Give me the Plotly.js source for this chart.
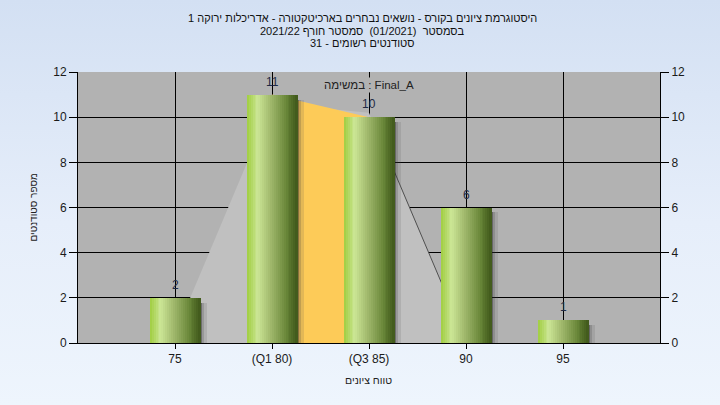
<!DOCTYPE html>
<html>
<head>
<meta charset="utf-8">
<script src="https://cdn.plot.ly/plotly-3.0.1.min.js"></script>
<style>
html,body{margin:0;padding:0;}
body{width:720px;height:405px;background:linear-gradient(to bottom,#d3e0f3 0%,#e6eefa 55%,#eef5fd 100%);}
#chart{width:720px;height:405px;}
</style>
</head>
<body>
<div id="chart"></div>
<script>
// ---- data ----
const categories = ["75", "(Q1 80)", "(Q3 85)", "90", "95"];
const counts = [2, 11, 10, 6, 1];
// background distribution area (category index, value)
const curveX = [-0.04, 1, 2, 3.01];
const curveY = [0, 10.6, 10.2, 0];
// Q1..Q3 highlighted area
const iqrX = [1, 1, 2, 2];
const iqrY = [0, 11, 10, 0];
// dark edge line on the right side of the curve
const edgeX = [2.26, 3.01];
const edgeY = [7.6, 0];
const titleLines = [
  "היסטוגרמת ציונים בקורס - נושאים נבחרים בארכיטקטורה - אדריכלות ירוקה 1",
  "בסמסטר  (01/2021)  סמסטר חורף 2021/22",
  "סטודנטים רשומים - 31"
];
const legendText = "במשימה : Final_A";
const xTitle = "טווח ציונים";
const yTitle = "מספר סטודנטים";

const xIdx = categories.map((c, i) => i);
const FONT = "Liberation Sans, Arial, DejaVu Sans, sans-serif";
const M = {l: 78, r: 60, t: 72, b: 62};
const PW = 720 - M.l - M.r;
const PH = 405 - M.t - M.b;

const traces = [];
traces.push({type: "scatter", x: curveX, y: curveY, fill: "toself", fillcolor: "#c0c0c0",
  mode: "lines", line: {width: 0}, hoverinfo: "skip", showlegend: false});
traces.push({type: "scatter", x: iqrX, y: iqrY, fill: "toself", fillcolor: "#fdcb58",
  mode: "lines", line: {width: 0}, hoverinfo: "skip", showlegend: false});
traces.push({type: "scatter", x: edgeX, y: edgeY, mode: "lines",
  line: {width: 1, color: "#505050"}, hoverinfo: "skip", showlegend: false});

const W = 0.52;
const shadowCols = ["rgba(40,40,40,0.55)", "rgba(60,60,60,0.3)", "rgba(80,80,80,0.15)"];
shadowCols.forEach((c, k) => {
  traces.push({type: "bar", x: xIdx, y: counts.map(v => v - 0.22), yaxis: "y2", width: 0.022,
    offset: W / 2 + k * 0.022, marker: {color: c, line: {width: 0}},
    hoverinfo: "skip", showlegend: false});
});

const stops = [[0, [160, 206, 64]], [0.22, [204, 230, 150]], [0.5, [156, 180, 104]],
               [0.78, [104, 134, 56]], [1, [64, 88, 26]]];
function grad(t) {
  for (let k = 0; k < stops.length - 1; k++) {
    const a = stops[k], b = stops[k + 1];
    if (t >= a[0] && t <= b[0]) {
      const f = (t - a[0]) / (b[0] - a[0]);
      const c = a[1].map((v, j) => Math.round(v + (b[1][j] - v) * f));
      return "rgb(" + c.join(",") + ")";
    }
  }
  return "rgb(64,88,26)";
}
const N = 26;
for (let i = 0; i < N; i++) {
  traces.push({type: "bar", x: xIdx, y: counts, yaxis: "y2", width: W / N + 0.003,
    offset: -W / 2 + i * W / N, marker: {color: grad((i + 0.5) / N), line: {width: 0}},
    hoverinfo: "skip", showlegend: false});
}

const annotations = [];
const titleY = [18, 31, 43];
titleLines.forEach((t, k) => annotations.push({text: t, xref: "paper", yref: "paper",
  x: (362 - M.l) / PW, y: (405 - M.b - titleY[k]) / PH, xanchor: "center", yanchor: "middle",
  showarrow: false, font: {family: FONT, size: 11, color: "#111"}}));
annotations.push({text: xTitle, xref: "paper", yref: "paper", x: (368 - M.l) / PW,
  y: (405 - M.b - 380) / PH, xanchor: "center", yanchor: "middle", showarrow: false,
  font: {family: FONT, size: 10.5, color: "#222"}});
counts.forEach((v, i) => annotations.push({text: String(v), x: xIdx[i], y: v, xref: "x", yref: "y2",
  xanchor: "center", yanchor: "middle", yshift: 13, showarrow: false,
  font: {family: FONT, size: 12, color: "#1f2a44"}}));
annotations.push({text: legendText, xref: "paper", yref: "paper", x: 0.5, y: 0.952,
  xanchor: "center", yanchor: "middle", showarrow: false, bgcolor: "#b2b2b2",
  borderpad: 1, font: {family: FONT, size: 11.5, color: "#222"}});
annotations.push({text: yTitle, xref: "paper", yref: "paper", x: (33 - M.l) / PW, y: 0.5,
  xanchor: "center", yanchor: "middle", textangle: -90, showarrow: false,
  font: {family: FONT, size: 10, color: "#222"}});

const layout = {
  width: 720, height: 405,
  margin: {l: M.l, r: M.r, t: M.t, b: M.b, pad: 0},
  paper_bgcolor: "rgba(0,0,0,0)",
  plot_bgcolor: "#b2b2b2",
  barmode: "overlay",
  bargap: 0,
  font: {family: FONT, size: 12, color: "#1a1a1a"},
  xaxis: {range: [-1, 5], tickmode: "array", tickvals: xIdx, ticktext: categories,
    showgrid: true, gridcolor: "#000", gridwidth: 1, zeroline: false,
    showline: true, linecolor: "#000", linewidth: 1,
    ticks: "outside", ticklen: 5, tickcolor: "#000",
    tickfont: {family: FONT, size: 12, color: "#1a1a1a"}, fixedrange: true},
  yaxis: {range: [0, 12], dtick: 2, showgrid: true, gridcolor: "#000", gridwidth: 1,
    zeroline: false, showline: true, linecolor: "#000", linewidth: 1,
    ticks: "outside", ticklen: 8, tickcolor: "#000",
    tickfont: {family: FONT, size: 12, color: "#1a1a1a"}, fixedrange: true},
  yaxis2: {range: [0, 12], dtick: 2, overlaying: "y", side: "right", showgrid: false,
    zeroline: false, showline: true, linecolor: "#000", linewidth: 1,
    ticks: "outside", ticklen: 8, tickcolor: "#000",
    tickfont: {family: FONT, size: 12, color: "#1a1a1a"}, fixedrange: true},
  annotations: annotations,
  showlegend: false
};

Plotly.newPlot("chart", traces, layout, {displayModeBar: false, staticPlot: true});
</script>
</body>
</html>
